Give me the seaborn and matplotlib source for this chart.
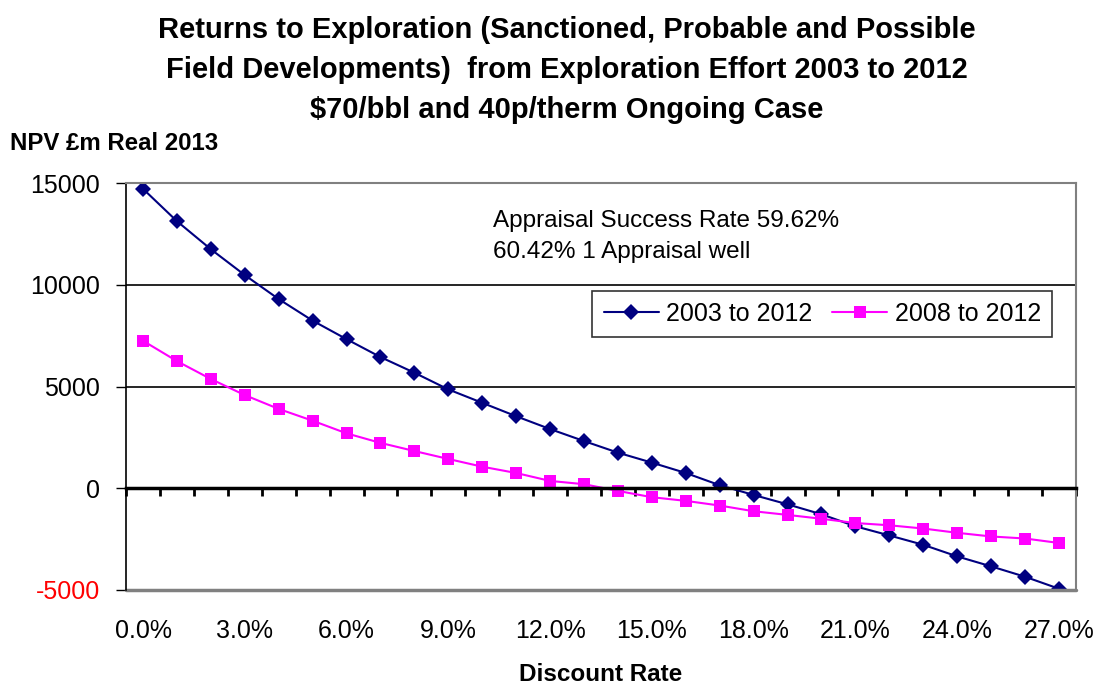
import numpy as np
import pandas as pd
import matplotlib
matplotlib.use("Agg")
import matplotlib.pyplot as plt
import seaborn as sns

# discount rate categories (%)
rates = [0, 1, 2, 3, 4, 5, 6, 7, 8, 9, 10, 11, 12, 13,
         14, 15, 16, 17, 18, 19, 20, 21, 22, 23, 24, 25, 26, 27]

# NPV, £m real 2013
npv_2003_2012 = [14720, 13130, 11750, 10480, 9300, 8240, 7330, 6450, 5680, 4860,
                 4200, 3540, 2910, 2320, 1750, 1260, 750, 150, -330, -790,
                 -1280, -1870, -2320, -2780, -3350, -3840, -4350, -4940]
npv_2008_2012 = [7250, 6250, 5370, 4580, 3900, 3320, 2700, 2230, 1830, 1440,
                 1060, 750, 360, 200, -130, -440, -620, -850, -1130, -1310,
                 -1500, -1710, -1820, -1980, -2190, -2370, -2470, -2690]

series_names = ["2003 to 2012", "2008 to 2012"]
yticks = [-5000, 0, 5000, 10000, 15000]
title_lines = ["Returns to Exploration (Sanctioned, Probable and Possible",
               "Field Developments)  from Exploration Effort 2003 to 2012",
               "$70/bbl and 40p/therm Ongoing Case"]
note_lines = ["Appraisal Success Rate 59.62%", "60.42% 1 Appraisal well"]

df = pd.DataFrame({
    "idx": list(range(len(rates))) * 2,
    "npv": npv_2003_2012 + npv_2008_2012,
    "series": [series_names[0]] * len(rates) + [series_names[1]] * len(rates),
})

sns.set_style("white")
plt.rcParams["font.family"] = ["Liberation Sans", "DejaVu Sans"]
plt.rcParams.update({"text.color": "black", "axes.labelcolor": "black",
                     "xtick.color": "black", "ytick.color": "black"})

fig = plt.figure(figsize=(10.99, 6.86), dpi=100)
ax = fig.add_axes([0.1147, 0.140, 0.8643, 0.593])

sns.lineplot(data=df, x="idx", y="npv", hue="series", style="series",
             palette={series_names[0]: "#000080", series_names[1]: "#FF00FF"},
             markers={series_names[0]: "D", series_names[1]: "s"},
             dashes=False, markersize=8.5, linewidth=1.5,
             markeredgewidth=0, ax=ax)
# squares a touch bigger, as in the original
ax.lines[1].set_markersize(9)

ax.set_xlim(-0.5, len(rates) - 0.5)
ax.set_ylim(-5000, 15000)
ax.set_yticks(yticks)
ax.set_yticklabels([str(v) for v in yticks], fontsize=18)
ax.tick_params(axis="y", left=True, direction="out", length=7, width=1, pad=12)
ax.get_yticklabels()[0].set_color("red")

# gridlines
for v in [5000, 10000]:
    ax.axhline(v, color="black", lw=1.2, zorder=0)

# spines
for s in ["top", "right"]:
    ax.spines[s].set_color("#808080")
    ax.spines[s].set_linewidth(1.5)
ax.spines["left"].set_color("black")
ax.spines["left"].set_linewidth(1.2)
ax.spines["bottom"].set_position(("data", 0))
ax.spines["bottom"].set_color("black")
ax.spines["bottom"].set_linewidth(2.5)
ax.axhline(-5000, color="#808080", lw=2.5, clip_on=False)

# category boundary ticks on the zero line
ax.set_xticks(np.arange(len(rates) + 1) - 0.5, minor=True)
ax.set_xticks([])
ax.tick_params(axis="x", which="minor", bottom=True, direction="out",
               length=6, width=2, color="black")

# tick labels at the bottom of the plot area
sec = ax.secondary_xaxis(0)
sec.set_xticks(rates[::3])
sec.set_xticklabels([f"{r:.1f}%" for r in rates[::3]], fontsize=18)
sec.tick_params(length=0, pad=21)
sec.spines["bottom"].set_visible(False)
sec.set_xlabel("Discount Rate", fontsize=17.5, fontweight="bold", labelpad=14)

ax.set_xlabel("")
ax.set_ylabel("")

# note
ax.text(0.386, 0.907, note_lines[0], transform=ax.transAxes, fontsize=17.5, va="center")
ax.text(0.386, 0.831, note_lines[1], transform=ax.transAxes, fontsize=17.5, va="center")

leg = ax.legend(loc="upper left", bbox_to_anchor=(0.491, 0.735), ncol=2,
                fontsize=18, frameon=True, fancybox=False, edgecolor="black",
                handlelength=2.2, columnspacing=0.8, handletextpad=0.3,
                borderpad=0.45, borderaxespad=0, title=None)
leg.get_frame().set_linewidth(1.2)

# titles
for i, line in enumerate(title_lines):
    fig.text(0.516, 1 - (30 + 40 * i) / 686, line, ha="center", va="center",
             fontsize=21, fontweight="bold")
fig.text(10 / 1099, 1 - 143 / 686, "NPV £m Real 2013", ha="left", va="center",
         fontsize=17.3, fontweight="bold")

fig.savefig("out.png", dpi=100)
